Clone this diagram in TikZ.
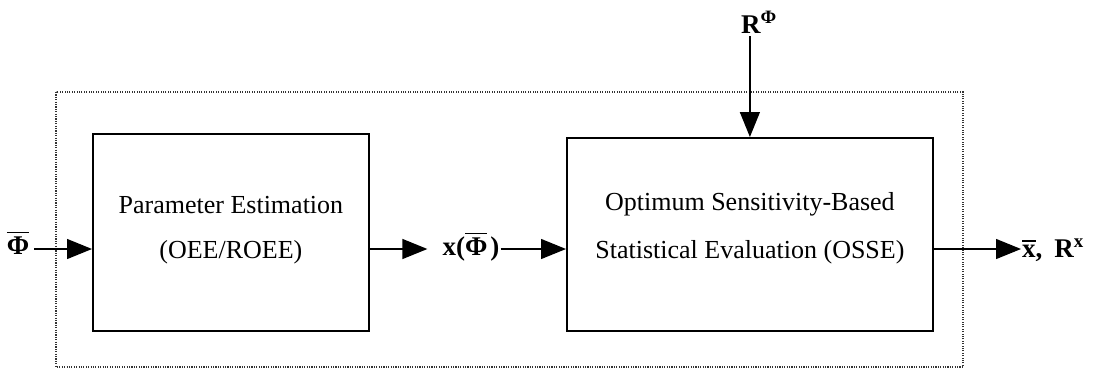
\documentclass[tikz,border=0pt]{standalone}
\usepackage{fontspec}
\setmainfont{Liberation Serif}
\usetikzlibrary{arrows.meta}
\tikzset{
  blk/.style={draw, line width=1.8pt},
  txt/.style={font=\fontsize{26}{30}\selectfont, inner sep=0pt, anchor=base},
  lbl/.style={font=\fontsize{27}{32}\selectfont\bfseries, inner sep=1pt, anchor=base},
  arr/.style={line width=1.3pt, -{Triangle[length=25pt,width=20pt]}},
  frame/.style={line width=1.3pt, dash pattern=on 1.1pt off 1.3pt, draw=black!80}
}
\newcommand{\barred}[1]{\vbox{\hrule height 1.8pt\kern 3pt\hbox{\bfseries #1}}}
\begin{document}
\begin{tikzpicture}[x=1pt,y=-1pt]
\useasboundingbox (0,0) rectangle (1099,370);
% frame
\draw[frame] (56,92) rectangle (963,367);
% blocks
\node[blk, minimum width=276pt, minimum height=197pt, anchor=north west] (b1) at (92,133) {};
\node[blk, minimum width=366pt, minimum height=193pt, anchor=north west] (b2) at (566,137) {};
\node[txt] (t1) at (b1.center |- 0,213) {Parameter Estimation};
\node[txt] (t2) at (b1.center |- 0,258) {(OEE/ROEE)};
\node[txt] (t3) at (b2.center |- 0,210) {Optimum Sensitivity-Based};
\node[txt] (t4) at (b2.center |- 0,258) {Statistical Evaluation (OSSE)};
% labels
\node[lbl] (phi) at (18,254) {\barred{Φ}};
\node[lbl] (xphi) at (471,255) {x(\barred{Φ}\kern3pt)};
\node[lbl] (rphi) at (759,33) {R\textsuperscript{Φ}};
\node[lbl, anchor=base west] (out) at (1021,257) {\barred{x},\kern12pt R\textsuperscript{x}};
% arrow levels
\coordinate (ya) at (0,249);
\draw[arr] (phi.east |- ya) ++(4,0) -- (b1.west |- ya);
\draw[arr] (b1.east |- ya) -- ([xshift=-14pt]xphi.west |- ya);
\draw[arr] (xphi.east |- ya) -- (b2.west |- ya);
\draw[arr] (b2.east |- ya) -- (out.west |- ya);
\draw[arr] (b2.north |- rphi.south) ++(0,2) -- (b2.north);
\end{tikzpicture}
\end{document}
